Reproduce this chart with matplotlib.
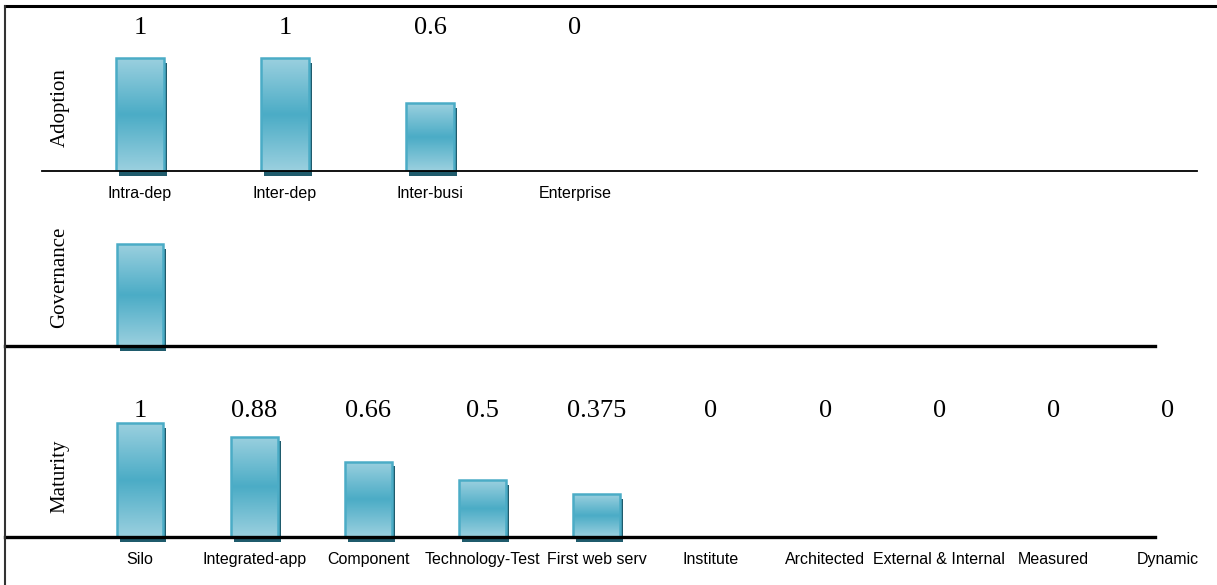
import numpy as np
import matplotlib.pyplot as plt
from matplotlib.colors import LinearSegmentedColormap
from matplotlib.lines import Line2D
from matplotlib.transforms import ScaledTranslation

# data
adoption_cats = ["Intra-dep", "Inter-dep", "Inter-busi", "Enterprise"]
adoption_vals = [1, 1, 0.6, 0]

governance_vals = [1]

maturity_cats = ["Silo", "Integrated-app", "Component", "Technology-Test",
                 "First web serv", "Institute", "Architected",
                 "External & Internal", "Measured", "Dynamic"]
maturity_vals = [1, 0.88, 0.66, 0.5, 0.375, 0, 0, 0, 0, 0]

W, H = 1217, 585
fig = plt.figure(figsize=(W / 100, H / 100), dpi=100)

serif = "Liberation Serif"
sans = "Liberation Sans"
bar_cmap = LinearSegmentedColormap.from_list("bar", ["#9BD0DF", "#4BACC6", "#9BD0DF"])
grad = np.linspace(0, 1, 256).reshape(-1, 1)
shadow_shift = ScaledTranslation(0.03, -0.045, fig.dpi_scale_trans)


def px_axes(left, right, base, top):
    # pixel box (from top-left) -> figure fraction axes
    ax = fig.add_axes([left / W, (H - base) / H, (right - left) / W, (base - top) / H])
    ax.patch.set_visible(False)
    return ax


def draw_bars(ax, vals, width):
    x = np.arange(len(vals))
    lws = [1.8 if v > 0 else 0 for v in vals]
    shadows = ax.bar(x, vals, width, color="#1F5B6C", lw=0, zorder=1,
                     transform=ax.transData + shadow_shift)
    for s in shadows:
        s.set_clip_on(False)
    bars = ax.bar(x, vals, width, color="none", edgecolor="#4BACC6", lw=lws, zorder=3)
    for b in bars:
        h = b.get_height()
        if h <= 0:
            continue
        x0 = b.get_x()
        im = ax.imshow(grad, cmap=bar_cmap, aspect="auto", origin="lower", zorder=2,
                       extent=[x0, x0 + b.get_width(), 0, h])
        im.set_clip_path(b)


def clean(ax):
    for s in ax.spines.values():
        s.set_visible(False)
    ax.set_yticks([])
    ax.tick_params(axis="x", length=0, pad=11)


# Adoption
ax1 = px_axes(42, 1197, 171, 6)
draw_bars(ax1, adoption_vals, 0.33)
ax1.set_xlim(-0.676, 7.29)
ax1.set_ylim(0, 165 / 113)
ax1.axhline(0, color="black", lw=1.3, zorder=5, clip_on=False)
for i, v in enumerate(adoption_vals):
    ax1.text(i, 1.265, f"{v:g}", ha="center", va="center", fontsize=19, family=serif)
ax1.set_xticks(range(len(adoption_cats)), adoption_cats, fontsize=11.5, family=sans)
clean(ax1)

# Governance
ax2 = px_axes(5, 1217, 346, 200)
draw_bars(ax2, governance_vals, 0.41)
ax2.set_xlim(-135 / 114.2, (1217 - 140) / 114.2)
ax2.set_ylim(0, 146 / 102)
ax2.axhline(0, xmax=1150 / 1212, color="black", lw=2.4, zorder=5, clip_on=False)
ax2.set_xticks([])
clean(ax2)

# Maturity
ax3 = px_axes(5, 1217, 537, 360)
draw_bars(ax3, maturity_vals, 0.41)
ax3.set_xlim(-135 / 114.2, (1217 - 140) / 114.2)
ax3.set_ylim(0, 177 / 114)
ax3.axhline(0, xmax=1150 / 1212, color="black", lw=2.4, zorder=5, clip_on=False)
for i, v in enumerate(maturity_vals):
    ax3.text(i, 1.105, f"{v:g}", ha="center", va="center", fontsize=19, family=serif)
ax3.set_xticks(range(len(maturity_cats)), maturity_cats, fontsize=11.5, family=sans)
clean(ax3)

# row titles
for name, yc in [("Adoption", 108), ("Governance", 277), ("Maturity", 476)]:
    fig.text(60 / W, (H - yc) / H, name, rotation=90, ha="center", va="center",
             fontsize=15, family=serif)

# outer frame
fig.add_artist(Line2D([5 / W, 1], [(H - 6) / H] * 2, color="black", lw=2.2))
fig.add_artist(Line2D([5 / W] * 2, [0, (H - 6) / H], color="#333333", lw=1.5))

fig.savefig("out.png", dpi=100)
